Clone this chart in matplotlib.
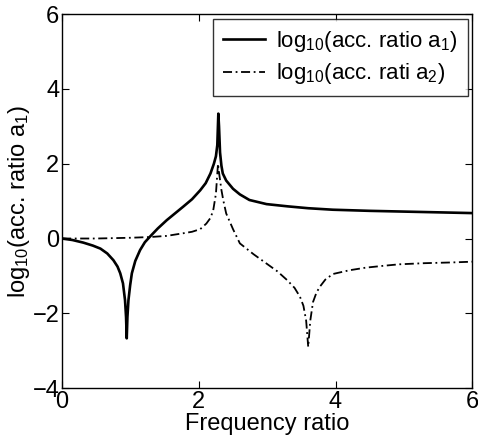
import matplotlib
matplotlib.use('Agg')
import matplotlib.pyplot as plt
import numpy as np

plt.rcParams['font.family'] = ['Liberation Sans', 'DejaVu Sans']
plt.rcParams['mathtext.fontset'] = 'custom'
plt.rcParams['mathtext.rm'] = 'Liberation Sans'
plt.rcParams['mathtext.it'] = 'Liberation Sans'
plt.rcParams['mathtext.default'] = 'regular'

# DATA
x_a1 = [0.0, 0.15, 0.31, 0.45, 0.56, 0.66, 0.75, 0.81, 0.85, 0.89, 0.92, 0.935, 0.945,
        0.955, 0.97, 0.995, 1.02, 1.07, 1.14, 1.21, 1.29, 1.4, 1.53, 1.65, 1.77, 1.9,
        2.02, 2.1, 2.17, 2.22, 2.25, 2.27, 2.285, 2.295, 2.31, 2.33, 2.35, 2.4, 2.5,
        2.6, 2.74, 2.99, 3.3, 3.6, 3.96, 4.5, 5.0, 5.5, 6.0]
y_a1 = [0.0, -0.04, -0.11, -0.19, -0.27, -0.4, -0.58, -0.75, -0.93, -1.2, -1.65, -2.1, -2.67,
        -2.1, -1.65, -1.25, -0.93, -0.6, -0.31, -0.1, 0.06, 0.27, 0.49, 0.67, 0.85, 1.05,
        1.29, 1.48, 1.74, 2.0, 2.2, 2.5, 3.34, 3.0, 2.3, 1.95, 1.74, 1.55, 1.33,
        1.18, 1.03, 0.92, 0.86, 0.81, 0.77, 0.74, 0.72, 0.7, 0.68]

x_a2 = [0.0, 0.5, 1.0, 1.29, 1.53, 1.77, 1.9, 2.02, 2.11, 2.17, 2.21, 2.25, 2.28,
        2.3, 2.33, 2.36, 2.4, 2.5, 2.6, 2.8, 2.99, 3.15, 3.29, 3.4, 3.48, 3.53, 3.57,
        3.6, 3.63, 3.67, 3.72, 3.77, 3.85, 3.96, 4.2, 4.44, 4.7, 4.93, 5.3, 5.7, 6.0]
y_a2 = [0.0, 0.0, 0.02, 0.04, 0.07, 0.14, 0.18, 0.25, 0.4, 0.55, 0.75, 1.2, 2.0,
        1.7, 1.3, 1.0, 0.67, 0.25, -0.13, -0.42, -0.67, -0.88, -1.11, -1.32, -1.56, -1.8, -2.2,
        -2.9, -2.2, -1.7, -1.45, -1.29, -1.1, -0.95, -0.85, -0.78, -0.73, -0.69, -0.66, -0.64, -0.62]

# PLOT
fig = plt.figure(figsize=(4.78, 4.43), dpi=100)
ax = fig.add_axes([0.13, 0.124, 0.858, 0.844])

ax.plot(x_a1, y_a1, color='black', lw=1.9, label=r'log$_{10}$(acc. ratio a$_1$)')
ax.plot(x_a2, y_a2, color='black', lw=1.3, linestyle=(0, (5, 2, 1, 2)),
        label=r'log$_{10}$(acc. rati a$_2$)')

ax.set_xlim(0, 6)
ax.set_ylim(-4, 6)
ax.set_xticks([0, 2, 4, 6])
ax.set_yticks([-4, -2, 0, 2, 4, 6])
ax.tick_params(direction='in', top=True, right=True, labelsize=17, length=5, pad=2)
for s in ax.spines.values():
    s.set_linewidth(1.0)

ax.set_xlabel('Frequency ratio', fontsize=17, labelpad=0)
ax.set_ylabel(r'log$_{10}$(acc. ratio a$_1$)', fontsize=17, labelpad=0)

leg = ax.legend(loc='upper right', fontsize=16, frameon=True, fancybox=False,
                edgecolor='black', handlelength=1.9, borderaxespad=0.2,
                labelspacing=0.35, handletextpad=0.5, borderpad=0.45)
leg.get_frame().set_linewidth(1.0)

fig.savefig('out.png', dpi=100)
